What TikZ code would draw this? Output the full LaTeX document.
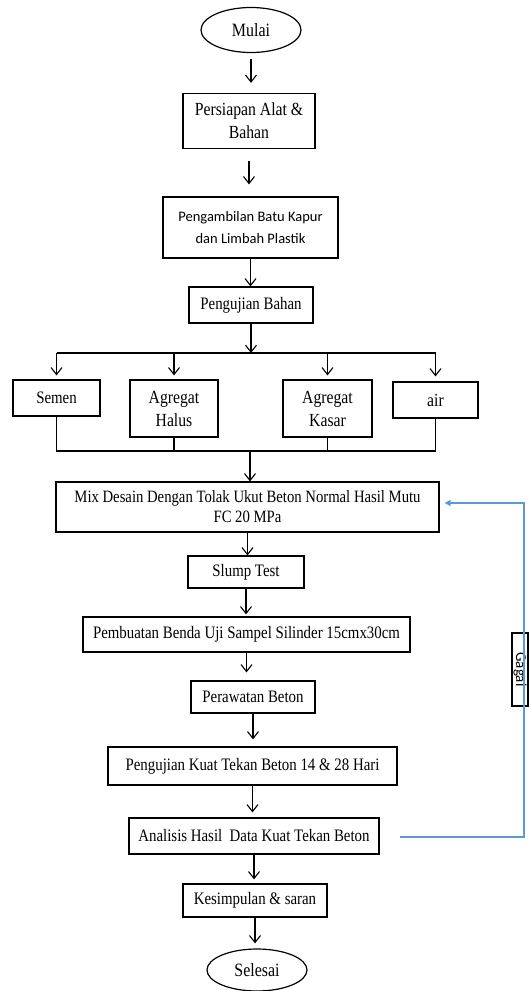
\documentclass[tikz,border=0pt]{standalone}
\usepackage{fontspec}
\setmainfont[FakeStretch=0.85]{Liberation Serif}
\newfontfamily\calib{Carlito}
\usetikzlibrary{arrows.meta,shapes.geometric}
\definecolor{fbblue}{RGB}{91,155,213}
\begin{document}
\begin{tikzpicture}[x=1pt,y=-1pt,
  box/.style={draw,line width=1.2pt,rectangle,inner sep=0pt,align=center,font=\fontsize{17.5}{23}\selectfont},
  bigtxt/.style={font=\fontsize{18.5}{23}\selectfont},
  term/.style={draw,ellipse,line width=1.2pt,inner sep=0pt,font=\fontsize{18.8}{20}\selectfont},
  arr/.style={-{Straight Barb[length=7pt,width=11pt]},line width=1.1pt},
  ln/.style={line width=1.1pt},
  fbl/.style={draw=fbblue,line width=1.3pt}
]
\useasboundingbox (0,0) rectangle (529,991);

\node[term,minimum width=100,minimum height=45] (mulai) at (251,30) {Mulai};
\node[box,bigtxt,minimum width=132,minimum height=55] (persiapan) at (249,121) {Persiapan Alat \&\\Bahan};
\node[box,minimum width=175,minimum height=61,font=\calib\fontsize{14.5}{22}\selectfont] (ambil) at (250.5,227.5) {Pengambilan Batu Kapur\\dan Limbah Plastik};
\node[box,minimum width=124,minimum height=36] (uji) at (251,305) {Pengujian Bahan};

\node[box,minimum width=87,minimum height=36] (semen) at (56.5,398) {Semen};
\node[box,bigtxt,minimum width=88,minimum height=57] (halus) at (174,408.5) {Agregat\\Halus};
\node[box,bigtxt,minimum width=89,minimum height=57] (kasar) at (327.5,408.5) {Agregat\\Kasar};
\node[box,bigtxt,minimum width=85,minimum height=36] (air) at (435.5,400) {air};

\node[box,minimum width=383,minimum height=50,font=\fontsize{17.3}{20}\selectfont] (mix) at (247.5,507) {Mix Desain Dengan Tolak Ukut Beton Normal Hasil Mutu\\FC 20 MPa};
\node[box,minimum width=116,minimum height=32] (slump) at (246,572) {Slump Test};
\node[box,minimum width=327,minimum height=35] (buat) at (246.5,634.5) {Pembuatan Benda Uji Sampel Silinder 15cmx30cm};
\node[box,minimum width=124,minimum height=32] (rawat) at (253,697) {Perawatan Beton};
\node[box,minimum width=289,minimum height=38] (kuat) at (252.5,766) {Pengujian Kuat Tekan Beton 14 \& 28 Hari};
\node[box,minimum width=250,minimum height=36] (analisis) at (254,836) {Analisis Hasil\ \ Data Kuat Tekan Beton};
\node[box,minimum width=144,minimum height=33] (simpul) at (255,900.5) {Kesimpulan \& saran};
\node[term,minimum width=100,minimum height=42] (selesai) at (257,970) {Selesai};

\node[box,rotate=-90,minimum width=73,minimum height=16,font=\calib\fontsize{15}{15}\selectfont] (gagal) at (520,669.5) {Gagal};

% main chain
\draw[arr,shorten <=6pt,shorten >=10pt] (mulai.south) -- (mulai.south |- persiapan.north);
\draw[arr,shorten <=12pt,shorten >=12pt] (persiapan.south) -- (persiapan.south |- ambil.north);
\draw[arr] (ambil.south) -- (ambil.south |- uji.north);

% branching
\coordinate (hl) at (250,353);
\coordinate (bl) at (250,451);
\draw[arr] (uji.south) -- (uji.south |- hl);
\draw[ln] (semen.north |- hl) -- (air.north |- hl);
\draw[arr,shorten >=4pt] (semen.north |- hl) -- (semen.north);
\draw[arr,shorten >=4pt] (halus.north |- hl) -- (halus.north);
\draw[arr,shorten >=4pt] (kasar.north |- hl) -- (kasar.north);
\draw[arr,shorten >=5pt] (air.north |- hl) -- (air.north);
\draw[ln] (semen.south) -- (semen.south |- bl) -- (air.south |- bl) -- (air.south);
\draw[ln] (halus.south) -- (halus.south |- bl);
\draw[ln] (kasar.south) -- (kasar.south |- bl);
\draw[arr] (bl) -- (bl |- mix.north);

\draw[arr] (mix.south) -- (mix.south |- slump.north);
\draw[arr,shorten >=2pt] (slump.south) -- (slump.south |- buat.north);
\draw[arr,shorten >=8pt] (buat.south) -- (buat.south |- rawat.north);
\draw[arr,shorten >=7pt] (rawat.south) -- (rawat.south |- kuat.north);
\draw[arr,shorten >=5pt] (kuat.south) -- (kuat.south |- analisis.north);
\draw[arr,shorten >=4pt] (analisis.south) -- (analisis.south |- simpul.north);
\draw[arr,shorten >=5pt] (simpul.south) -- (simpul.south |- selesai.north);

% feedback loop
\coordinate (fbs) at (400,837);
\coordinate (fbc) at (524,837);
\coordinate (fbt) at (524,503);
\draw[fbl] (fbs) -- (fbc) -- (fbc |- gagal.west);
\draw[fbl,-{Triangle[length=6pt,width=6pt]},shorten >=5pt] (fbt |- gagal.east) -- (fbt) -- (fbt -| mix.east);
\end{tikzpicture}
\end{document}
